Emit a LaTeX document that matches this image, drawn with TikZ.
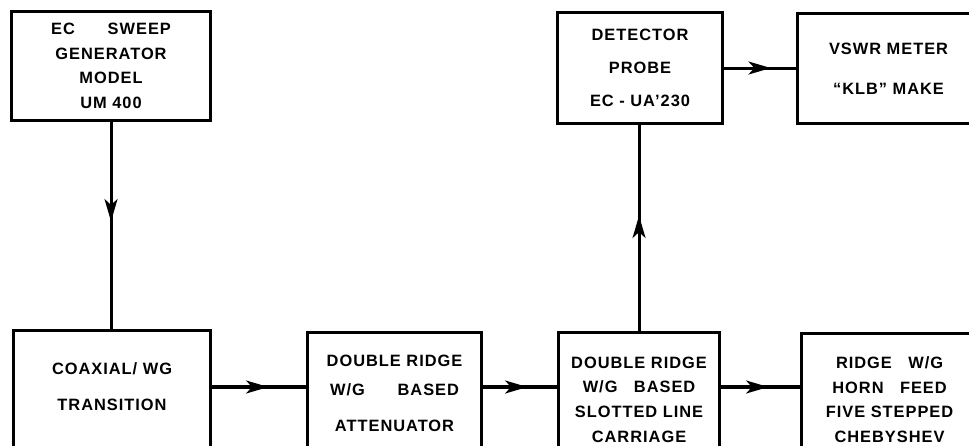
\documentclass[tikz,border=0pt]{standalone}
\usepackage{fontspec}
\setmainfont{Liberation Sans}[LetterSpace=6]
\usepackage{tikz}
\usetikzlibrary{arrows.meta,positioning,decorations.markings}
\tikzset{
  blkbox/.style={rectangle,draw=black,line width=2.6pt,align=center,
    anchor=north west,font=\bfseries\fontsize{14}{21}\selectfont,inner sep=3pt},
  flow/.style={line width=2.6pt,draw=black,postaction={decorate},
    decoration={markings,mark=at position #1 with
      {\arrow{Stealth[length=19pt,width=11pt,inset=5pt]}}}},
  flow/.default=0.6,
}

\begin{document}
\begin{tikzpicture}[x=0.03cm,y=-0.03cm]
  \useasboundingbox (0,0) rectangle (969,446);
  \clip (0,0) rectangle (969,446);
  % top row
  \node[blkbox,minimum width=5.97cm,minimum height=3.27cm] (sweep) at (10,10)
    {EC\quad\quad SWEEP\\GENERATOR\\MODEL\\UM 400};
  \node[blkbox,minimum width=4.95cm,minimum height=3.33cm] (detector) at (556,11)
    {DETECTOR\\[7pt]PROBE\\[7pt]EC - UA’230};
  \node[blkbox,minimum width=5.46cm,minimum height=3.3cm] (vswr) at (796,12)
    {VSWR METER\\[13pt]“KLB” MAKE};
  % bottom row
  \node[blkbox,minimum width=5.91cm,minimum height=4.44cm] (coax) at (12,329)
    {COAXIAL/ WG\\[10pt]TRANSITION\\[10pt]\mbox{}};
  \node[blkbox,minimum width=5.22cm,minimum height=3.66cm] (atten) at (306,331)
    {DOUBLE RIDGE\\[3.5pt]W/G\quad\quad BASED\\[9.5pt]ATTENUATOR};
  \node[blkbox,minimum width=4.83cm,minimum height=4.02cm] (slotted) at (557,331)
    {DOUBLE RIDGE\\W/G\quad BASED\\SLOTTED LINE\\CARRIAGE};
  \node[blkbox,minimum width=5.28cm,minimum height=3.96cm] (horn) at (800,332)
    {RIDGE\quad W/G\\HORN\quad FEED\\FIVE STEPPED\\CHEBYSHEV};
  \coordinate (rail) at (0,387);
  \draw[flow=0.48] (sweep.south) -- (sweep.south |- coax.north);
  \draw[flow] (coax.east |- rail) -- (atten.west |- rail);
  \draw[flow] (atten.east |- rail) -- (slotted.west |- rail);
  \draw[flow] (slotted.east |- rail) -- (horn.west |- rail);
  \draw[flow=0.56] (slotted.north) -- (slotted.north |- detector.south);
  \draw[flow=0.65] (detector.east) -- (detector.east -| vswr.west);
\end{tikzpicture}
\end{document}
